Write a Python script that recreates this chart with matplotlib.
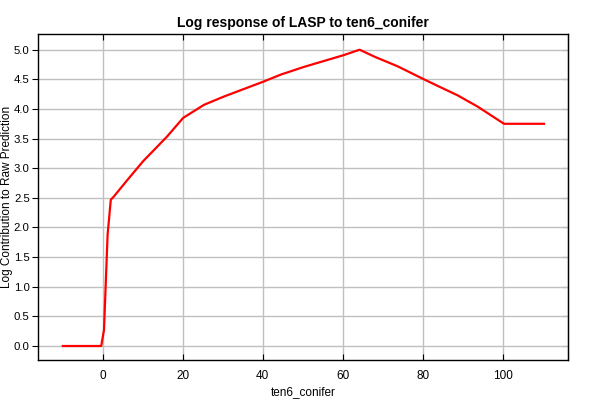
import matplotlib
matplotlib.use("Agg")
import matplotlib.pyplot as plt

x_vals = [-10, -0.4, 0.3, 1.2, 2.0, 2.6, 6.0, 10.1, 16.0, 20.1, 25.3, 30.3, 35.0, 40.1, 44.5, 50.3, 55.3, 60.3, 64.2,
          68.0, 73.7, 80.3, 84.0, 88.7, 93.7, 100.3, 110.3]
y_vals = [0.0, 0.0, 0.27, 1.88, 2.47, 2.51, 2.79, 3.12, 3.53, 3.85, 4.07, 4.21, 4.33, 4.46, 4.58, 4.71, 4.81, 4.91, 5.0,
          4.88, 4.72, 4.50, 4.38, 4.23, 4.04, 3.75, 3.75]

title = "Log response of LASP to ten6_conifer"
xlabel = "ten6_conifer"
ylabel = "Log Contribution to Raw Prediction"
xticks = [0, 20, 40, 60, 80, 100]
yticks = [0.0, 0.5, 1.0, 1.5, 2.0, 2.5, 3.0, 3.5, 4.0, 4.5, 5.0]

plt.rcParams['font.family'] = ['Liberation Sans', 'DejaVu Sans']
fig = plt.figure(figsize=(6, 4), dpi=100)
ax = fig.add_axes([38/600, 1-360/400, (568-38)/600, (360-34)/400])
ax.plot(x_vals, y_vals, color='#ff0000', lw=1.6, solid_joinstyle='round')
ax.set_xlim(-16.2, 116.3)
ax.set_ylim(-0.236, 5.265)
ax.set_xticks(xticks)
ax.set_yticks(yticks)
ax.set_xticklabels([str(t) for t in xticks], fontsize=8.5)
ax.set_yticklabels([f"{t:.1f}" for t in yticks], fontsize=8.2)
ax.grid(True, color='#c0c0c0', lw=1)
ax.set_axisbelow(True)
for s in ax.spines.values():
    s.set_color('black'); s.set_linewidth(1)
ax.tick_params(axis='x', direction='in', length=4, top=True, color='black', pad=7)
ax.tick_params(axis='y', direction='out', length=4, color='black', pad=2)
sec = ax.secondary_yaxis('right')
sec.set_yticks(yticks)
sec.tick_params(axis='y', direction='in', length=4, labelright=False, color='black')
ax.set_title(title, fontsize=10, fontweight='bold', pad=5)
ax.set_xlabel(xlabel, fontsize=8.5, labelpad=3)
ax.set_ylabel(ylabel, fontsize=8.5, va='center')
ax.yaxis.set_label_coords((7.5 - 38) / 530, 0.5)
fig.savefig("out.png", dpi=100)
